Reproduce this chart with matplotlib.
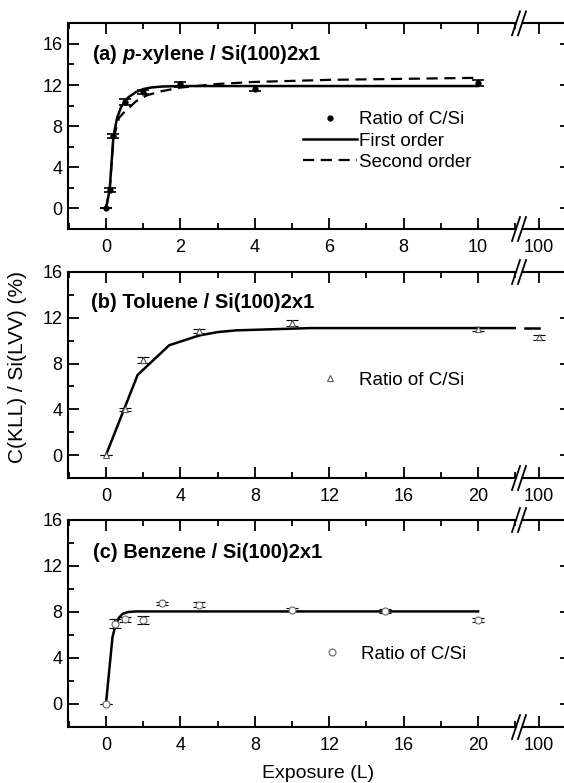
import matplotlib
matplotlib.use("Agg")
import matplotlib.pyplot as plt
from matplotlib.lines import Line2D
from matplotlib.ticker import MultipleLocator, FixedLocator

plt.rcParams['font.family'] = ['Liberation Sans', 'DejaVu Sans']
plt.rcParams['mathtext.fontset'] = 'custom'
plt.rcParams['mathtext.it'] = 'Liberation Sans:bold:italic'
plt.rcParams['mathtext.rm'] = 'Liberation Sans:bold'

# ---------------- data ----------------
# (a) p-xylene
a_x = [0, 0.1, 0.2, 0.5, 1, 2, 4, 10]
a_y = [0, 1.75, 7.0, 10.35, 11.35, 12.05, 11.65, 12.2]
a_err = [0, 0.2, 0.2, 0.3, 0.2, 0.2, 0.25, 0.25]
a_first_x = [0, 0.1, 0.2, 0.3, 0.4, 0.5, 0.6, 0.8, 1.0, 1.2, 1.5, 2.0, 3.0, 10.0]
a_first_y = [0, 1.8, 7.0, 8.8, 9.8, 10.4, 10.8, 11.3, 11.6, 11.75, 11.85, 11.9, 11.9, 11.9]
a_second_x = [0, 0.1, 0.2, 0.35, 0.5, 0.6, 0.8, 1.1, 1.5, 2.0, 3.0, 4.0, 6.0, 8.0, 10.0]
a_second_y = [0, 1.8, 6.8, 8.8, 9.4, 9.7, 10.4, 11.0, 11.4, 11.75, 12.1, 12.3, 12.5, 12.6, 12.7]

# (b) toluene
b_x = [0, 1, 2, 5, 10, 20]
b_y = [0, 4.0, 8.3, 10.85, 11.55, 11.0]
b_err = [0, 0.15, 0.25, 0.2, 0.25, 0.15]
b_x_far = [100]
b_y_far = [10.3]
b_err_far = [0.2]
b_fit_x = [0, 1.7, 3.4, 5.0, 6.0, 7.0, 9.0, 11.0, 22.0]
b_fit_y = [0, 7.0, 9.6, 10.45, 10.75, 10.9, 11.0, 11.1, 11.1]
b_fit_far_x = [99.1, 100]
b_fit_far_y = [11.1, 11.1]

# (c) benzene
c_x = [0, 0.5, 1, 2, 3, 5, 10, 15, 20]
c_y = [0, 7.0, 7.35, 7.3, 8.75, 8.65, 8.2, 8.1, 7.3]
c_err = [0, 0.4, 0.2, 0.35, 0.15, 0.2, 0.15, 0.15, 0.2]
c_fit_x = [0, 0.35, 0.5, 0.7, 0.9, 1.2, 1.6, 20]
c_fit_y = [0, 5.8, 6.8, 7.5, 7.85, 8.0, 8.05, 8.05]

far_tick = [100]
far_label = ['100']

# ---------------- layout ----------------
W, H = 564, 783
fig = plt.figure(figsize=(W / 100, H / 100), dpi=100)

def rect(x0, x1, ytop, ybot):
    return [x0 / W, 1 - ybot / H, (x1 - x0) / W, (ybot - ytop) / H]

tops = [23.3, 272, 520]
bots = [229, 478, 727]
XL, XB1, XB2, XR = 68, 516, 523, 566

TICK_FS = 13
LEG_FS = 13.5
TITLE_FS = 14.5
DASH = (0, (5, 3))

lw_sp = 1.5
tick_kw = dict(direction='in', width=1.3)

def style_left(ax, xlim, ylim, xmaj, xmin):
    ax.set_xlim(*xlim)
    ax.set_ylim(*ylim)
    ax.spines['right'].set_visible(False)
    for s in ['left', 'top', 'bottom']:
        ax.spines[s].set_linewidth(lw_sp)
    ax.xaxis.set_major_locator(MultipleLocator(xmaj))
    ax.xaxis.set_minor_locator(MultipleLocator(xmin))
    ax.yaxis.set_major_locator(MultipleLocator(4))
    ax.yaxis.set_minor_locator(MultipleLocator(2))
    ax.tick_params(axis='x', which='both', top=True, bottom=True, **tick_kw)
    ax.tick_params(axis='x', which='major', length=8, pad=7.5, labelsize=TICK_FS)
    ax.tick_params(axis='x', which='minor', length=4.5)
    ax.tick_params(axis='y', which='both', left=True, right=False, **tick_kw)
    ax.tick_params(axis='y', which='major', length=8, pad=4, labelsize=TICK_FS)
    ax.tick_params(axis='y', which='minor', length=4.5)

def style_right(ax, xlim, ylim):
    ax.set_xlim(*xlim)
    ax.set_ylim(*ylim)
    ax.spines['left'].set_visible(False)
    for s in ['right', 'top', 'bottom']:
        ax.spines[s].set_linewidth(lw_sp)
    ax.xaxis.set_major_locator(FixedLocator(far_tick))
    ax.set_xticklabels(far_label)
    ax.yaxis.set_major_locator(MultipleLocator(4))
    ax.tick_params(axis='x', which='major', top=True, bottom=True, length=8,
                   pad=7.5, labelsize=TICK_FS, **tick_kw)
    ax.tick_params(axis='y', which='major', left=False, right=True,
                   labelleft=False, length=4.5, **tick_kw)

def break_marks(ytop, ybot):
    for yc in (ytop, ybot):
        for xc in (XB1, XB2 - 1):
            fig.add_artist(Line2D([(xc - 4) / W, (xc + 4) / W],
                                  [1 - (yc + 12) / H, 1 - (yc - 12) / H],
                                  color='black', lw=1.3,
                                  transform=fig.transFigure))

eb_kw = dict(ecolor='black', elinewidth=1.2, capsize=4.5, capthick=1.2,
             linestyle='none', zorder=4)

axes_left = []
axes_right = []
for i in range(3):
    axl = fig.add_axes(rect(XL, XB1, tops[i], bots[i]))
    axr = fig.add_axes(rect(XB2, XR, tops[i], bots[i]))
    axes_left.append(axl)
    axes_right.append(axr)

leg_kw = dict(bbox_transform=fig.transFigure, frameon=False, fontsize=LEG_FS,
              handlelength=2.9, handletextpad=0.1, borderpad=0,
              borderaxespad=0)

# ----- panel a -----
ax, axr = axes_left[0], axes_right[0]
style_left(ax, (-1.02, 11.02), (-2, 18), 2, 1)
style_right(axr, (99.0, 101.69), (-2, 18))
ax.plot(a_first_x, a_first_y, color='black', lw=1.8, zorder=2)
ax.plot(a_second_x, a_second_y, color='black', lw=1.6,
        linestyle=DASH, zorder=2)
ax.errorbar(a_x, a_y, yerr=a_err, marker='o', ms=3.5, mfc='black',
            mec='black', **eb_kw)
h1 = Line2D([], [], marker='o', ms=3.5, color='black', linestyle='none')
h2 = Line2D([], [], color='black', lw=1.8)
h3 = Line2D([], [], color='black', lw=1.6, linestyle=DASH)
ax.legend([h1, h2, h3], ['Ratio of C/Si', 'First order', 'Second order'],
          loc='center left', bbox_to_anchor=(303 / W, 1 - 141 / H),
          labelspacing=0.22, **leg_kw)
fig.text(92 / W, 1 - 55 / H, r'(a) $\mathit{p}$-xylene / Si(100)2x1',
         fontsize=TITLE_FS, fontweight='bold', va='center', ha='left')

# ----- panel b -----
ax, axr = axes_left[1], axes_right[1]
style_left(ax, (-2.04, 22.04), (-2, 16), 4, 2)
style_right(axr, (99.0, 101.69), (-2, 16))
ax.plot(b_fit_x, b_fit_y, color='black', lw=1.8, zorder=2)
axr.plot(b_fit_far_x, b_fit_far_y, color='black', lw=1.8, zorder=2,
         clip_on=False)
ax.errorbar(b_x, b_y, yerr=b_err, marker='^', ms=5, mfc='white',
            mec='#555555', mew=0.8, **eb_kw)
axr.errorbar(b_x_far, b_y_far, yerr=b_err_far, marker='^', ms=5,
             mfc='white', mec='#555555', mew=0.8, **eb_kw)
hb = Line2D([], [], marker='^', ms=5, mfc='white', mec='#555555', mew=0.8,
            linestyle='none')
ax.legend([hb], ['Ratio of C/Si'], loc='center left',
          bbox_to_anchor=(303 / W, 1 - 380 / H), **leg_kw)
fig.text(91 / W, 1 - 303 / H, '(b) Toluene / Si(100)2x1',
         fontsize=TITLE_FS, fontweight='bold', va='center', ha='left')

# ----- panel c -----
ax, axr = axes_left[2], axes_right[2]
style_left(ax, (-2.04, 22.04), (-2, 16), 4, 2)
style_right(axr, (99.0, 101.69), (-2, 16))
ax.plot(c_fit_x, c_fit_y, color='black', lw=1.8, zorder=2)
ax.errorbar(c_x, c_y, yerr=c_err, marker='o', ms=5, mfc='white',
            mec='#666666', mew=0.8, **eb_kw)
hc = Line2D([], [], marker='o', ms=5, mfc='white', mec='#666666', mew=0.8,
            linestyle='none')
ax.legend([hc], ['Ratio of C/Si'], loc='center left',
          bbox_to_anchor=(305 / W, 1 - 654 / H), **leg_kw)
fig.text(93 / W, 1 - 553 / H, '(c) Benzene / Si(100)2x1',
         fontsize=TITLE_FS, fontweight='bold', va='center', ha='left')

for i in range(3):
    break_marks(tops[i], bots[i])

fig.text(18 / W, 1 - 367 / H, 'C(KLL) / Si(LVV) (%)', rotation=90,
         fontsize=15, va='center', ha='center')
fig.text(318 / W, 1 - 773 / H, 'Exposure (L)', fontsize=14,
         va='center', ha='center')

fig.savefig('out.png', dpi=100)
